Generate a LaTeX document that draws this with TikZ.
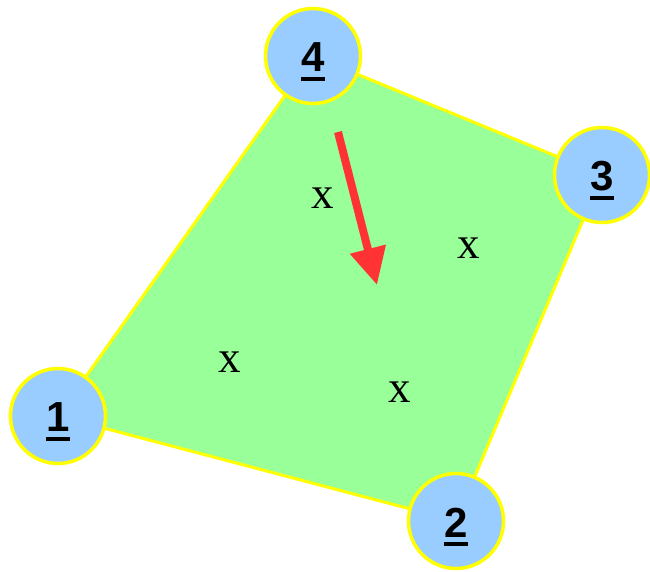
\documentclass[tikz,border=0pt]{standalone}
\usepackage{fontspec}
\setmainfont{Liberation Serif}
\newfontfamily\numfont{Liberation Sans}
\usetikzlibrary{arrows.meta,backgrounds}
\definecolor{quadgreen}{HTML}{99FF99}
\definecolor{nodeblue}{HTML}{99CCFF}
\definecolor{edgeyellow}{HTML}{FFFF00}
\definecolor{arrowred}{HTML}{FF3333}
\newcommand\ulnum[1]{\vtop{\hbox{#1}\kern5pt\hrule height 4pt}}
\begin{document}
\begin{tikzpicture}[
        x=1pt, y=-1pt,
        corner/.style={draw=edgeyellow, fill=nodeblue, circle, line width=3.5pt,
            minimum size=95pt, inner sep=0pt},
        numlab/.style={font=\numfont\bfseries\fontsize{42}{48}\selectfont, yshift=-6pt},
        cross/.style={font=\fontsize{45}{50}\selectfont, inner sep=0pt},
        quad/.style={draw=edgeyellow, fill=quadgreen, line width=3pt, line join=round},
        force/.style={arrowred, line width=8pt,
            -{Triangle[length=37pt,width=35pt]}},
    ]
    \useasboundingbox (0,0) rectangle (650,571);
    % corner nodes
    \node[corner](n1) at (58,416){};
    \node[corner](n2) at (456,521){};
    \node[corner](n3) at (602,175){};
    \node[corner](n4) at (313,56){};
    \node[numlab] at (n1){\ulnum{1}};
    \node[numlab] at (n2){\ulnum{2}};
    \node[numlab] at (n3){\ulnum{3}};
    \node[numlab] at (n4){\ulnum{4}};
    \begin{scope}[on background layer]
        \filldraw[quad] (n1.center) -- (n2.center) -- (n3.center) -- (n4.center) -- cycle;
    \end{scope}
    % points inside
    \node[cross](x1) at (323,198){x};
    \node[cross](x2) at (469,248){x};
    \node[cross](x3) at (230,362){x};
    \node[cross](x4) at (400,392){x};
    % load
    \coordinate (f0) at (338,132);
    \coordinate (f1) at (377,285);
    \draw[force] (f0) -- (f1);
\end{tikzpicture}
\end{document}
